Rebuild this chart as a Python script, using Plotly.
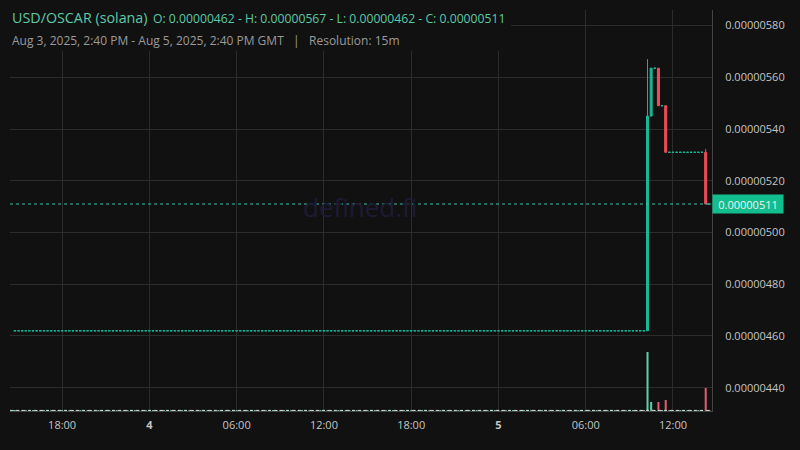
import pandas as pd
import plotly.graph_objects as go

# ---------------- data (prices in units of 1e-8 USD) ----------------
SCALE = 1e-8

# Flat period: every 15m candle from Aug 3 14:45 to Aug 5 10:00 traded at 462
flat_start = "2025-08-03 14:45"
flat_end = "2025-08-05 10:00"
flat_price = 462
flat_volume = 70

# Active candles on Aug 5
act_times = ["2025-08-05 10:15", "2025-08-05 10:30", "2025-08-05 10:45", "2025-08-05 11:00",
             "2025-08-05 11:15", "2025-08-05 11:30", "2025-08-05 11:45", "2025-08-05 12:00",
             "2025-08-05 12:15", "2025-08-05 12:30", "2025-08-05 12:45", "2025-08-05 13:00",
             "2025-08-05 13:15", "2025-08-05 13:30", "2025-08-05 13:45", "2025-08-05 14:00",
             "2025-08-05 14:15", "2025-08-05 14:30"]
act_open = [462, 545, 563.5, 563.5, 549, 549, 531, 531, 531, 531, 531, 531, 531, 531, 531, 531, 531, 511]
act_high = [567, 563.5, 563.5, 563.5, 549, 549, 531, 531, 531, 531, 531, 531, 531, 531, 531, 531, 532.3, 511]
act_low = [462, 545, 563.5, 549, 549, 531, 531, 531, 531, 531, 531, 531, 531, 531, 531, 531, 511, 511]
act_close = [545, 563.5, 563.5, 549, 549, 531, 531, 531, 531, 531, 531, 531, 531, 531, 531, 531, 511, 511]
act_volume = [5900, 900, 70, 900, 70, 1100, 70, 70, 70, 70, 70, 70, 70, 70, 70, 70, 2300, 70]

last_price = 511
y_ticks = [440, 460, 480, 500, 520, 540, 560, 580]
x_tick_vals = ["2025-08-03 18:00", "2025-08-04 00:00", "2025-08-04 06:00", "2025-08-04 12:00",
               "2025-08-04 18:00", "2025-08-05 00:00", "2025-08-05 06:00", "2025-08-05 12:00"]
x_tick_text = ["18:00", "<b>4</b>", "06:00", "12:00", "18:00", "<b>5</b>", "06:00", "12:00"]

# ---------------- assemble ----------------
flat_times = list(pd.date_range(flat_start, flat_end, freq="15min"))
n_flat = len(flat_times)
times = flat_times + list(pd.to_datetime(act_times))
opens = [flat_price] * n_flat + act_open
highs = [flat_price] * n_flat + act_high
lows = [flat_price] * n_flat + act_low
closes = [flat_price] * n_flat + act_close
vols = [flat_volume] * n_flat + act_volume

df = pd.DataFrame({"t": times, "o": opens, "h": highs, "l": lows, "c": closes, "v": vols})
for col in ["o", "h", "l", "c"]:
    df[col] = df[col] * SCALE
up = df[df.c >= df.o]
dn = df[df.c < df.o]

UP = "#16b896"
DN = "#ef4d59"
VUP = "#5ad2ae"
VDN = "#e35d72"
BG = "#111111"
GRID = "#2c2c2c"

fig = go.Figure()
fig.add_trace(go.Bar(x=df.t, y=df.v, yaxis="y2",
                     marker=dict(color=[VUP if c >= o else VDN for o, c in zip(df.o, df.c)], line_width=0),
                     hoverinfo="skip", showlegend=False))
for d, col in [(up, UP), (dn, DN)]:
    fig.add_trace(go.Candlestick(
        x=d.t, open=d.o, high=d.h, low=d.l, close=d.c,
        increasing=dict(line=dict(color=col, width=1), fillcolor=col),
        decreasing=dict(line=dict(color=col, width=1), fillcolor=col),
        whiskerwidth=0, showlegend=False, hoverinfo="skip"))

def px_x(px):
    return (px - 10) / 702

def px_y(py):
    return (411 - py) / 401

shapes = [
    # current price line
    dict(type="line", xref="paper", x0=0, x1=1, yref="y", y0=last_price * SCALE, y1=last_price * SCALE,
         line=dict(color="#3cc4a6", width=1, dash="dot"), layer="above"),
    # volume baseline
    dict(type="line", xref="paper", x0=0, x1=1, yref="paper", y0=0.0015, y1=0.0015,
         line=dict(color="#d8d8d8", width=1, dash="dot"), layer="above"),
    # header background
    dict(type="rect", xref="paper", yref="paper", x0=-0.02, x1=px_x(511), y0=px_y(51), y1=1.02,
         fillcolor=BG, line_width=0, layer="above"),
]

annotations = [
    dict(text="USD/OSCAR (solana)", x=px_x(10), y=px_y(18), xref="paper", yref="paper",
         xanchor="left", yanchor="middle", showarrow=False,
         font=dict(size=14.3, color="#5cc9a7", family="Open Sans")),
    dict(text="O: 0.00000462 - H: 0.00000567 - L: 0.00000462 - C: 0.00000511",
         x=px_x(151), y=px_y(18.5), xref="paper", yref="paper",
         xanchor="left", yanchor="middle", showarrow=False,
         font=dict(size=12.2, color="#5cc9a7", family="Open Sans")),
    dict(text="Aug 3, 2025, 2:40 PM - Aug 5, 2025, 2:40 PM GMT&nbsp;&nbsp;&nbsp;|&nbsp;&nbsp;&nbsp;Resolution: 15m",
         x=px_x(10), y=px_y(41), xref="paper", yref="paper",
         xanchor="left", yanchor="middle", showarrow=False,
         font=dict(size=12, color="#9a9a9a", family="Open Sans")),
    dict(text="defined.fi", x=px_x(360), y=px_y(207), xref="paper", yref="paper",
         xanchor="center", yanchor="middle", showarrow=False,
         font=dict(size=26, color="#1f1a35", family="Open Sans")),
    dict(text="0.00000511", x=1, y=last_price * SCALE, xref="paper", yref="y",
         xanchor="left", yanchor="middle", showarrow=False, width=68, height=16,
         bgcolor="#12bd8e", font=dict(size=11, color="#f2f2f2", family="Open Sans")),
]

fig.update_layout(
    width=800, height=450,
    margin=dict(l=10, r=88, t=10, b=39),
    paper_bgcolor=BG, plot_bgcolor=BG,
    font=dict(family="Open Sans", color="#c8c8c8", size=11),
    boxmode="overlay", boxgap=0.2, bargap=0.45,
    showlegend=False,
    shapes=shapes, annotations=annotations,
    xaxis=dict(type="date", range=["2025-08-03 14:25", "2025-08-05 14:41"],
               tickvals=x_tick_vals, ticktext=x_tick_text,
               showgrid=True, gridcolor=GRID, gridwidth=1,
               showline=True, linecolor="#444444", linewidth=1,
               zeroline=False, rangeslider=dict(visible=False),
               ticks="outside", ticklen=4, tickcolor="rgba(0,0,0,0)",
               tickfont=dict(size=11, color="#c4c4c4")),
    yaxis=dict(side="right", range=[431.0 * SCALE, 586.0 * SCALE],
               tickvals=[v * SCALE for v in y_ticks],
               ticktext=[f"{v * SCALE:.8f}" for v in y_ticks],
               showgrid=True, gridcolor=GRID, gridwidth=1,
               showline=True, linecolor="#444444", linewidth=1, zeroline=False,
               ticks="outside", ticklen=10, tickcolor="rgba(0,0,0,0)",
               tickfont=dict(size=11, color="#c4c4c4")),
    yaxis2=dict(overlaying="y", range=[0, 40100], visible=False, fixedrange=True),
)

fig.write_html("out.html", config={"displayModeBar": False},
               post_script="document.body.style.margin='0';")
